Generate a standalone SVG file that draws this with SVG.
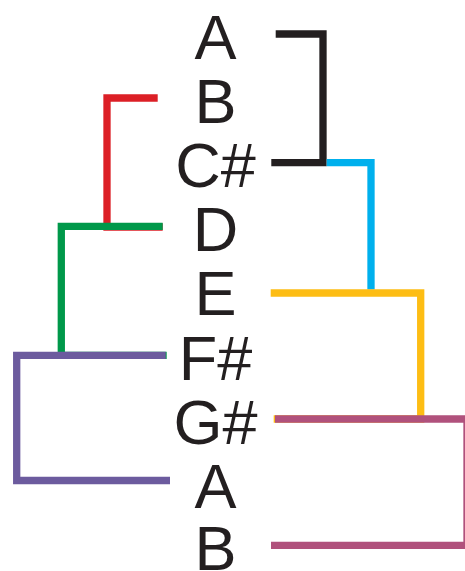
<svg xmlns="http://www.w3.org/2000/svg" width="465" height="571" viewBox="0 0 465 571">
<style>
.lbl{font-family:"Liberation Sans",Arial,Helvetica,sans-serif;font-size:63px;fill:#231f20;text-anchor:middle}
.c{fill:none;stroke-width:7.3;stroke-linejoin:miter;stroke-linecap:butt}
</style>
<rect width="465" height="571" fill="#ffffff"/>
<g id="connectors">
<path class="c" stroke="#dc1f26" d="M157.7,98 H107 V227 H162.7"/>
<path class="c" stroke="#00984a" d="M162.7,226.3 H61.3 V355.3 H166.7"/>
<path class="c" stroke="#6c5b9e" d="M165.7,355.3 H16.7 V480.5 H170"/>
<path class="c" stroke="#231f20" d="M275.7,34 H323 V162.7 H271.3"/>
<path class="c" stroke="#00b0ed" d="M326.7,162.7 H371 V289.5"/>
<path class="c" stroke="#fdbd14" d="M270.7,293 H420.7 V419 H273.7"/>
<path class="c" stroke="#b0517c" d="M275,419 H467 V545.3 H271"/>
</g>
<g id="n1"><text class="lbl" x="215.5" y="58.5">A</text></g>
<g id="n2"><text class="lbl" x="215.5" y="122.7">B</text></g>
<g id="n3"><text class="lbl" x="215.5" y="186.9">C#</text></g>
<g id="n4"><text class="lbl" x="215.5" y="251.1">D</text></g>
<g id="n5"><text class="lbl" x="215.5" y="315.3">E</text></g>
<g id="n6"><text class="lbl" x="215.5" y="379.5">F#</text></g>
<g id="n7"><text class="lbl" x="215.5" y="443.7">G#</text></g>
<g id="n8"><text class="lbl" x="215.5" y="507.9">A</text></g>
<g id="n9"><text class="lbl" x="215.5" y="569.5">B</text></g>
</svg>
